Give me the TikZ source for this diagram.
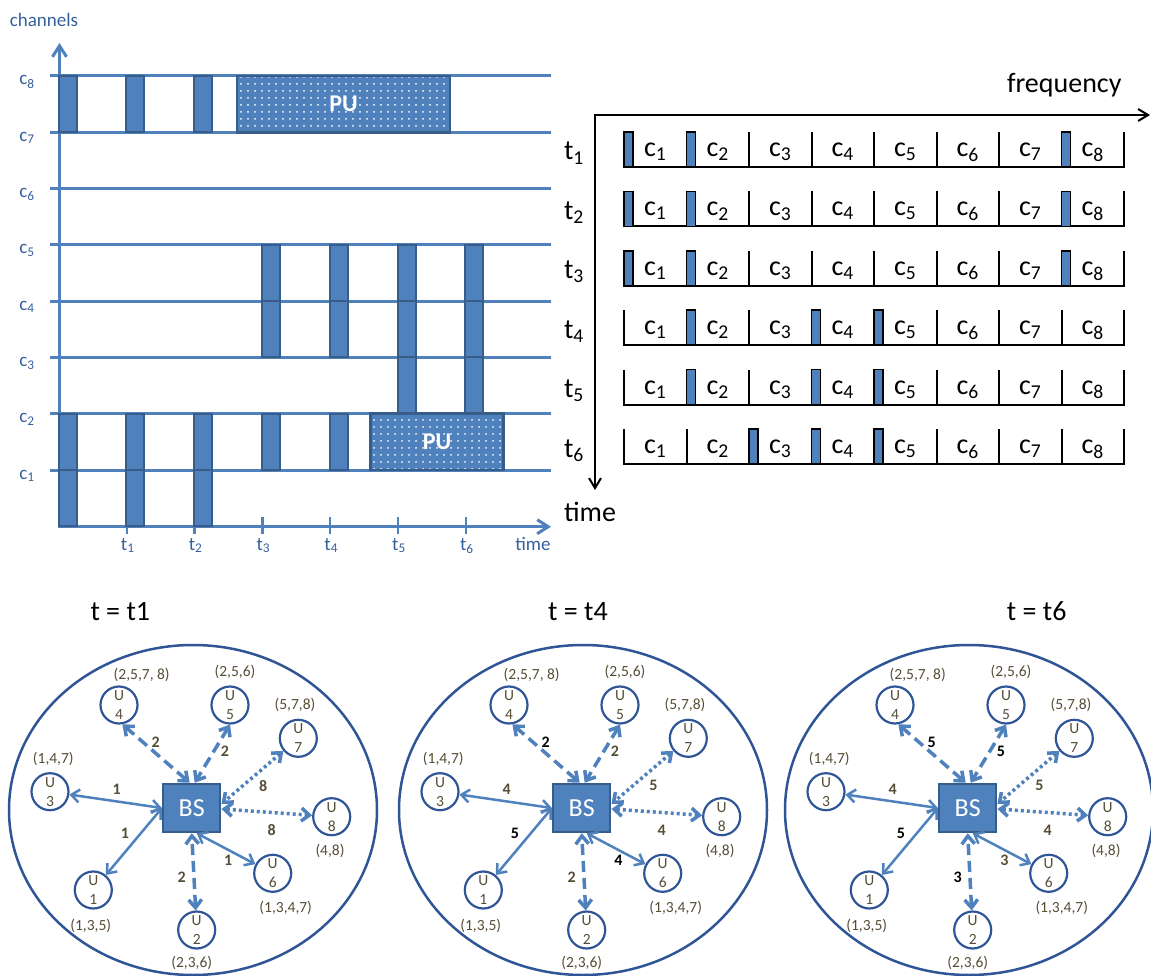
\documentclass[tikz,border=0pt]{standalone}
\usepackage{fontspec}
\setmainfont{Carlito}
\usetikzlibrary{arrows.meta,patterns}

\definecolor{chblue}{HTML}{4F81BD}
\definecolor{bardark}{HTML}{385D8A}
\definecolor{labblue}{HTML}{35609B}
\definecolor{ringblue}{HTML}{2F5597}
\definecolor{olive}{HTML}{554D35}

% white dots on the primary user blocks
\pgfdeclarepatternformonly{pudots}{\pgfpointorigin}{\pgfpoint{7pt}{7pt}}{\pgfpoint{7pt}{7pt}}%
  {\pgfpathcircle{\pgfpoint{3.5pt}{3.5pt}}{1.1pt}\pgfusepath{fill}}

\tikzset{
  chline/.style={chblue, line width=3pt},
  chaxis/.style={chblue, line width=3pt, {Straight Barb[length=11pt,width=14pt]}-{Straight Barb[length=11pt,width=14pt]}},
  chtick/.style={chblue, line width=2.5pt},
  slot/.style={draw=bardark, fill=chblue, line width=2pt},
  pubox/.style={fill=chblue, postaction={pattern=pudots, pattern color=white}, postaction={draw=bardark, line width=2.5pt}},
  putext/.style={text=white, font=\fontsize{24}{28}\selectfont\bfseries},
  axlab/.style={text=labblue, font=\fontsize{19}{22}\selectfont},
  big/.style={font=\fontsize{28}{32}\selectfont},
  gridline/.style={black, line width=2pt},
  gridaxis/.style={black, line width=2pt, {Straight Barb[length=10pt,width=12pt]}-{Straight Barb[length=10pt,width=12pt]}},
  chmark/.style={draw=black, fill=chblue, line width=1.5pt},
  ring/.style={draw=ringblue, line width=2.5pt},
  bsbox/.style={draw=bardark, fill=chblue, line width=2.5pt, minimum width=57pt, minimum height=48pt, inner sep=0pt, text=white, font=\fontsize{26}{30}\selectfont},
  unode/.style={circle, draw=ringblue, line width=2.2pt, minimum size=37pt, inner sep=0pt, align=center, text=olive, font=\fontsize{15.5}{19}\selectfont},
  setlab/.style={text=olive, font=\fontsize{15.5}{18}\selectfont},
  wlab/.style={text=olive, font=\fontsize{16}{18}\selectfont\bfseries},
  link/.style={chblue, line width=2.5pt, {Straight Barb[length=8pt,width=13pt]}-{Straight Barb[length=8pt,width=13pt]}},
  dashlink/.style={link, line width=3.5pt, dash pattern=on 11pt off 6pt},
  dotlink/.style={link, line width=3.5pt, dash pattern=on 3pt off 3pt},
}

\newcommand\bk{\color{black}}

% one cell: base station, eight users, the channel of each link
\newcommand\cellnet[9]{%
  \begin{scope}[shift={(#1,0)}, name prefix=net#1-]
    \draw[ring] (193,810) ellipse [x radius=184pt, y radius=165pt];
    \node[bsbox] (bs) at (191.7,808) {BS};
    \node[unode] (u1) at (93.3,890) {U\\1};
    \node[unode] (u2) at (196.7,930) {U\\2};
    \node[unode] (u3) at (50,791.7) {U\\3};
    \node[unode] (u4) at (119,705) {U\\4};
    \node[unode] (u5) at (230,705) {U\\5};
    \node[unode] (u6) at (272.7,873.3) {U\\6};
    \node[unode] (u7) at (298.3,738.3) {U\\7};
    \node[unode] (u8) at (331.7,816.7) {U\\8};
    % free channels
    \node[setlab] (s1) at (90.7,926) {(1,3,5)};
    \node[setlab] (s2) at (191.7,962.7) {(2,3,6)};
    \node[setlab] (s3) at (53.3,759.3) {(1,4,7)};
    \node[setlab] (s4) at (141.7,675) {(2,5,7, 8)};
    \node[setlab] (s5) at (235,672.3) {(2,5,6)};
    \node[setlab] (s6) at (285.7,908.3) {(1,3,4,7)};
    \node[setlab] (s7) at (295,705) {(5,7,8)};
    \node[setlab] (s8) at (330,850.7) {(4,8)};
    % links
    \draw[link] (u1) -- (bs.west);
    \draw[dashlink] (u2) -- (bs.south);
    \draw[link] (u3) -- (bs.west);
    \draw[dashlink] (u4.-80) -- ([xshift=-2pt]bs.north);
    \draw[dashlink] (u5.south) -- ([xshift=3pt]bs.north);
    \draw[link] (u6) -- ([xshift=5pt]bs.south);
    \draw[dotlink] (u7) -- ([yshift=4pt]bs.east);
    \draw[dotlink] (u8) -- ([yshift=-1pt]bs.east);
    \node[wlab] (w1) at (125,833.3) {#2};
    \node[wlab] (w2) at (181.7,877.7) {#3};
    \node[wlab] (w3) at (116.7,789) {#4};
    \node[wlab] (w4) at (155.7,742.3) {#5};
    \node[wlab] (w5) at (225,751) {#6};
    \node[wlab] (w6) at (228.3,860) {#7};
    \node[wlab] (w7) at (263.3,785.7) {#8};
    \node[wlab] (w8) at (271.7,830) {#9};
  \end{scope}}

\begin{document}
\begin{tikzpicture}[x=1pt, y=-1pt]
  \useasboundingbox (0,0) rectangle (1151,976);

  % channels over time
  \node[axlab, anchor=base] (chn) at (44,27) {channels};
  \draw[chaxis] (59.5,43) -- (59.5,526.7) -- (551,526.7);
  \foreach \i in {1,...,8}{
    \pgfmathsetmacro\yc{470-56.3*(\i-1)}
    \draw[chline] (50,\yc) -- (551,\yc);
    \node[axlab, anchor=base] (c\i) at (27,\yc+9) {c\textsubscript{\i}};
  }
  \foreach \t in {1,...,6}{
    \draw[chtick] ({59+67.8*\t},517) -- ++(0,17);
    \node[axlab, anchor=base] (t\t) at ({60+67.8*\t},550) {t\textsubscript{\t}};
  }
  \node[axlab, anchor=base] (tm) at (533,550) {time};
  \foreach \t/\cells in {0/{7,1,0},1/{7,1,0},2/{7,1,0},3/{4,3,1},4/{4,3,1},5/{4,3,2},6/{4,3,2}}
    \foreach \c in \cells
      \draw[slot] ({58.5+67.8*\t},{470-56.3*(\c-1)}) rectangle ++(18,-56.3);
  \path[pubox] (237,76) rectangle (450,132.7);
  \node[putext] (pu1) at (343.5,104.3) {PU};
  \path[pubox] (370.4,413.7) rectangle (503.6,470);
  \node[putext] (pu2) at (437,441.8) {PU};

  % channel use per slot
  \node[big, anchor=base east] (freq) at (1125,93) {frequency};
  \node[big, anchor=base] (tm2) at (590,521) {time};
  \draw[gridaxis] (595,490) -- (595,115) -- (1150,115);
  \foreach \r/\marks in {1/{1,2,8},2/{1,2,8},3/{1,2,8},4/{2,4,5},5/{2,4,5},6/{3,4,5}}{
    \pgfmathsetmacro\yb{167+59.4*(\r-1)}
    \node[big, anchor=base] (row\r) at (574,\yb-7) {t\textsubscript{\r}};
    \draw[gridline] (624,\yb-35) -- (624,\yb) -- (1124,\yb) -- (1124,\yb-35);
    \foreach \k in {1,...,8}{
      \draw[gridline] ({624+62.5*\k},\yb) -- ++(0,-35);
      \node[big, anchor=base, name=g\r-\k] at ({655.25+62.5*(\k-1)},\yb-10.5) {c\textsubscript{\k}};
    }
    \foreach \k in \marks
      \draw[chmark] ({624+62.5*(\k-1)},\yb) rectangle ++(9,-35);
  }

  % the three snapshots
  \node[big, anchor=base] (snap1) at (120.3,620) {t = t1};
  \node[big, anchor=base] (snap2) at (578,620) {t = t4};
  \node[big, anchor=base] (snap3) at (1036.7,620) {t = t6};
  \cellnet{0}{1}{2}{1}{2}{2}{1}{8}{8}
  \cellnet{390}{\bk5}{2}{4}{\bk2}{2}{\bk4}{5}{4}
  \cellnet{776}{\bk5}{\bk3}{4}{\bk5}{\bk5}{3}{5}{4}
\end{tikzpicture}
\end{document}
